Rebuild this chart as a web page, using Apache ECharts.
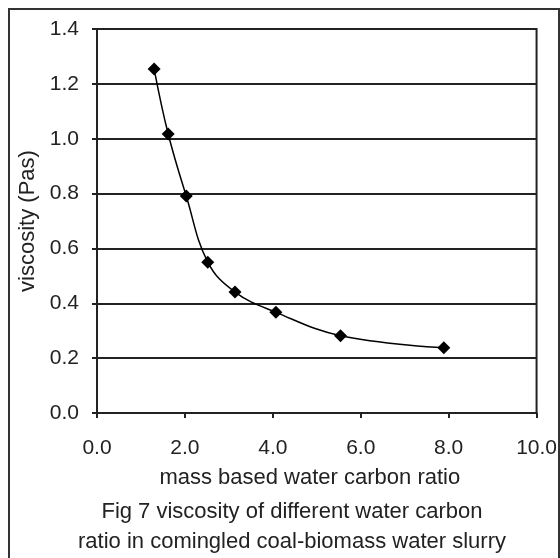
<!DOCTYPE html>
<html>
<head>
<meta charset="utf-8">
<script src="https://cdn.jsdelivr.net/npm/echarts@6/dist/echarts.min.js"></script>
<style>
  html, body { margin: 0; padding: 0; background: #fff; }
  #chart { width: 560px; height: 558px; }
</style>
</head>
<body>
<div id="chart"></div>
<script>
// data
var ratio = [1.30, 1.62, 2.03, 2.52, 3.14, 4.07, 5.54, 7.89];
var viscosity = [1.254, 1.017, 0.791, 0.550, 0.441, 0.367, 0.282, 0.238];
var captionLines = ['Fig 7 viscosity of different water carbon', 'ratio in comingled coal-biomass water slurry'];

(function () {
  var myChart = echarts.init(document.getElementById('chart'));
  var font = 'Liberation Sans, Arial, sans-serif';
  var ink = '#222';

  var points = ratio.map(function (x, i) { return [x, viscosity[i]]; });

  var option = {
    backgroundColor: '#fff',
    animation: false,
    textStyle: { fontFamily: font, color: ink },
    title: {
      text: captionLines.join('\n'),
      left: 287,
      top: 492,
      textAlign: 'center',
      textStyle: { fontFamily: font, fontSize: 22, fontWeight: 'normal', color: ink, lineHeight: 30 }
    },
    grid: {
      left: 97,
      right: 21,
      top: 29,
      bottom: 145,
      show: true,
      borderColor: ink,
      borderWidth: 2
    },
    xAxis: {
      type: 'value',
      min: 0,
      max: 10,
      interval: 2,
      name: 'mass based water carbon ratio',
      nameLocation: 'middle',
      nameGap: 54,
      nameTextStyle: { fontFamily: font, fontSize: 22, color: ink, padding: [0, 14, 0, 0] },
      axisLine: { lineStyle: { color: ink, width: 2 } },
      axisTick: { show: true, length: 5, lineStyle: { color: ink, width: 2 } },
      axisLabel: {
        margin: 25,
        fontFamily: font,
        fontSize: 21,
        color: ink,
        formatter: function (v) { return v.toFixed(1); }
      },
      splitLine: { show: false }
    },
    yAxis: {
      type: 'value',
      min: 0,
      max: 1.4,
      interval: 0.2,
      name: 'viscosity (Pas)',
      nameLocation: 'middle',
      nameGap: 56,
      nameTextStyle: { fontFamily: font, fontSize: 22, color: ink },
      axisLine: { show: true, lineStyle: { color: ink, width: 2 } },
      axisTick: { show: true, length: 5, lineStyle: { color: ink, width: 2 } },
      axisLabel: {
        margin: 18,
        fontFamily: font,
        fontSize: 21,
        color: ink,
        formatter: function (v) { return v.toFixed(1); }
      },
      splitLine: { show: true, lineStyle: { color: ink, width: 2 } }
    },
    graphic: [
      {
        type: 'rect',
        shape: { x: 9, y: 9, width: 550, height: 570 },
        style: { fill: 'none', stroke: '#333', lineWidth: 2 },
        silent: true
      }
    ],
    series: [
      {
        type: 'line',
        data: points,
        smooth: 0.4,
        symbol: 'diamond',
        symbolSize: 13,
        showAllSymbol: true,
        lineStyle: { color: '#000', width: 1.5 },
        itemStyle: { color: '#000' }
      }
    ]
  };

  myChart.setOption(option);
  window.addEventListener('resize', myChart.resize);
})();
</script>
</body>
</html>
